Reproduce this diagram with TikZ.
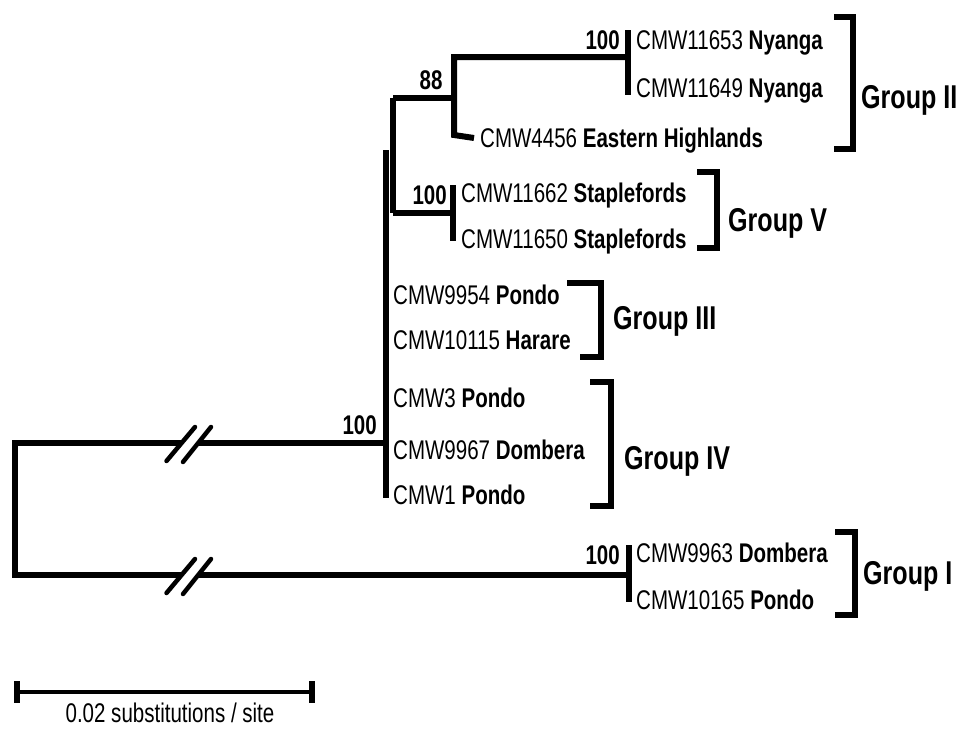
\documentclass[tikz,border=0pt]{standalone}
\usepackage{fontspec}
\setmainfont[FakeStretch=0.76]{Liberation Sans}
\tikzset{
  branch/.style={line width=6pt, line join=miter, line cap=butt},
  tip/.style={anchor=west, inner sep=0pt, text height=19pt, text depth=0pt, font=\fontsize{27}{27}\selectfont},
  boot/.style={inner sep=0pt, text height=19pt, text depth=0pt, font=\fontsize{27}{27}\selectfont\bfseries},
  grp/.style={anchor=west, inner sep=0pt, text height=23pt, text depth=0pt, font=\fontsize{33}{33}\selectfont\bfseries},
  bracket/.style={line width=6pt, line join=miter, line cap=butt},
  slash/.style={line width=4.5pt, line cap=round},
}
\newcommand{\breakmark}[1]{%
  \begin{scope}[shift={(0,#1)}]
    \fill[white] (173.7,9) -- (191.6,9) -- (204,-7) -- (187.3,-7) -- cycle;
    \draw[slash] (166.5,18) -- (195,-16);
    \draw[slash] (183,19) -- (211,-16);
  \end{scope}}
\begin{document}
\begin{tikzpicture}[x=1pt,y=-1pt]
\useasboundingbox[fill=white] (0,0) rectangle (957,728);

% internal nodes
\coordinate (Rt) at (15,443);
\coordinate (Rb) at (15,575);
\coordinate (A) at (386,443);
\coordinate (In) at (393,98);
\coordinate (Iv) at (393,213);
\coordinate (N88) at (454,98);
\coordinate (N100a) at (454,57);
\coordinate (N88b) at (454,135);
\coordinate (NV) at (453,213);
\coordinate (B) at (629,575);

% tips
\node[tip] (t1) at (636,40) {CMW11653 \textbf{Nyanga}};
\node[tip] (t2) at (636,88) {CMW11649 \textbf{Nyanga}};
\node[tip] (t3) at (480,138) {CMW4456 \textbf{Eastern Highlands}};
\node[tip] (t4) at (461,193) {CMW11662 \textbf{Staplefords}};
\node[tip] (t5) at (461,239) {CMW11650 \textbf{Staplefords}};
\node[tip] (t6) at (393,295) {CMW9954 \textbf{Pondo}};
\node[tip] (t7) at (393,340) {CMW10115 \textbf{Harare}};
\node[tip] (t8) at (393,398) {CMW3 \textbf{Pondo}};
\node[tip] (t9) at (393,450) {CMW9967 \textbf{Dombera}};
\node[tip] (t10) at (393,495) {CMW1 \textbf{Pondo}};
\node[tip] (t11) at (636,553) {CMW9963 \textbf{Dombera}};
\node[tip] (t12) at (636,600) {CMW10165 \textbf{Pondo}};

% branches
\draw[branch] (A) -- (Rt) -- (Rb) -- (B);
\breakmark{443}
\breakmark{575}
\draw[branch] (386,150) -- (386,498);
\draw[branch] (In) -- (Iv);
\draw[branch] (In) -- (N88);
\draw[branch] (Iv) -- (NV);
\draw[branch] (628,57) -- (N100a) -- (N88b) -- (t3.west -| 474,0);
\draw[branch] (628,30) -- (628,95);
\draw[branch] (453,185) -- (453,241);
\draw[branch] (629,545) -- (629,602);

% bootstrap values
\node[boot, anchor=east] (b1) at (620,40) {100};
\node[boot] (b2) at (431,80) {88};
\node[boot, anchor=east] (b3) at (447,195) {100};
\node[boot, anchor=east] (b4) at (377,425) {100};
\node[boot, anchor=east] (b5) at (620,555) {100};

% group brackets
\draw[bracket] (834,17) -- (853,17) -- (853,149) -- (834,149);
\draw[bracket] (697,172) -- (717,172) -- (717,248) -- (697,248);
\draw[bracket] (567,283) -- (601,283) -- (601,357) -- (580,357);
\draw[bracket] (590,382) -- (611,382) -- (611,506) -- (590,506);
\draw[bracket] (835,532) -- (855,532) -- (855,615) -- (835,615);

\node[grp] (g2) at (861,97) {Group II};
\node[grp] (g5) at (728,220) {Group V};
\node[grp] (g3) at (613,318) {Group III};
\node[grp] (g4) at (624,458) {Group IV};
\node[grp] (g1) at (863,573) {Group I};

% scale bar
\coordinate (s1) at (17,692);
\coordinate (s2) at (312,692);
\draw[line width=4pt] (s1) -- (s2);
\draw[line width=6pt] (17,681) -- (17,703);
\draw[line width=6pt] (312,681) -- (312,703);
\node[tip, anchor=center] (sc) at (170,713) {0.02 substitutions / site};
\end{tikzpicture}
\end{document}
